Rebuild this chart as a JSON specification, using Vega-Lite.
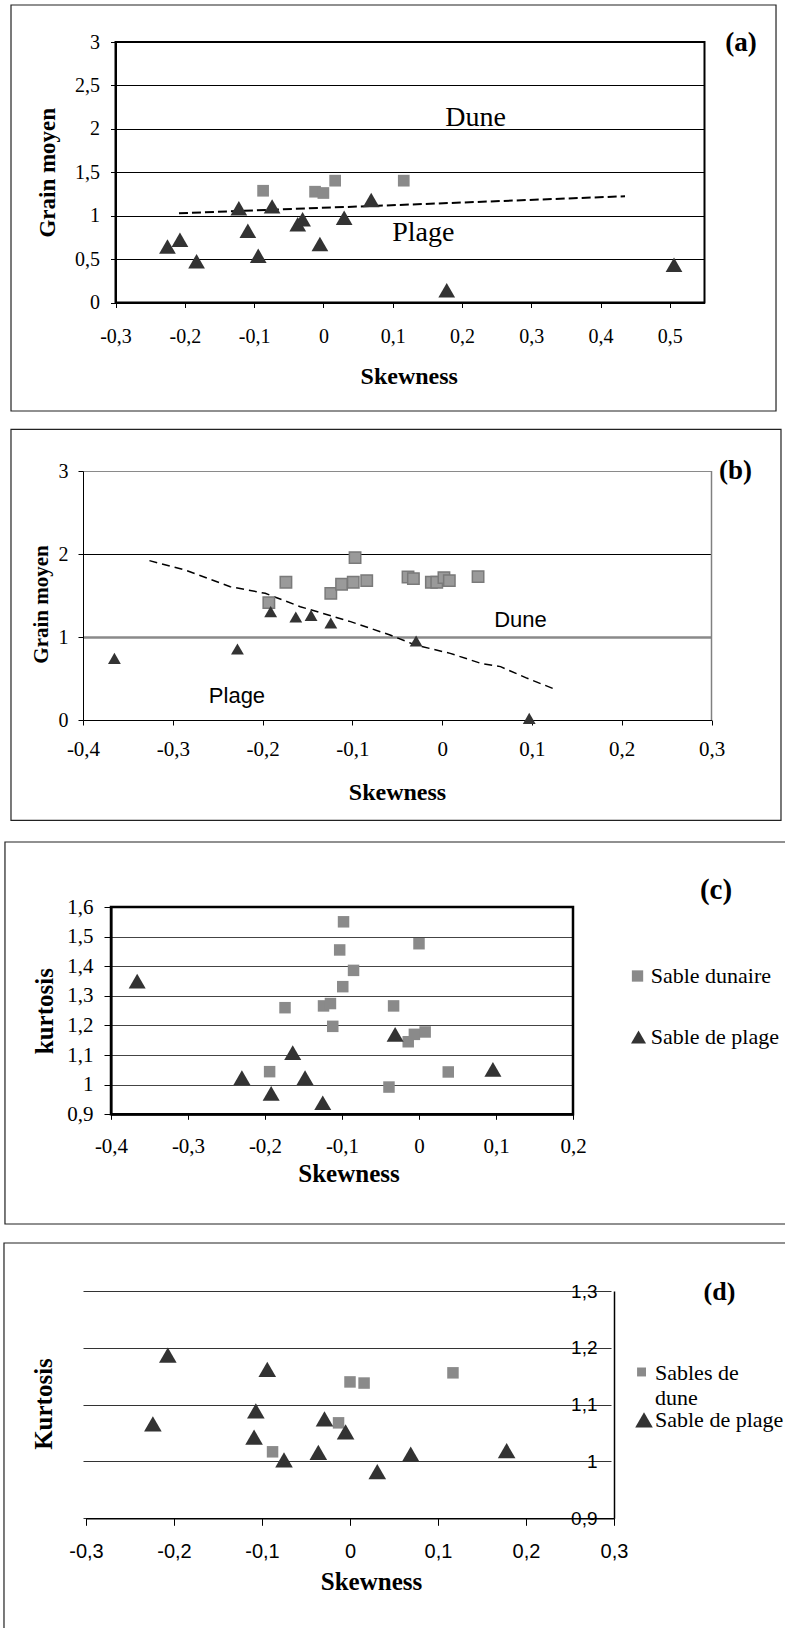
{
  "$schema": "https://vega.github.io/schema/vega-lite/v6.json",
  "background": "white",
  "padding": {"left": 3, "top": 4, "right": 5, "bottom": 5},
  "config": {
    "font": "Liberation Serif",
    "view": {"stroke": null},
    "axis": {"labelColor": "black", "titleColor": "black", "titleFontWeight": "bold", "labelFont": "Liberation Serif", "titleFont": "Liberation Serif", "labelFlush": false, "labelOverlap": false, "tickWidth": 1, "tickColor": "black", "domainColor": "black", "gridOpacity": 1, "tickCount": 40}
  },
  "datasets": {
    "a_dune": [{"skew": -0.087, "mean": 1.287}, {"skew": -0.012, "mean": 1.276}, {"skew": 0.0, "mean": 1.261}, {"skew": 0.017, "mean": 1.403}, {"skew": 0.116, "mean": 1.403}],
    "a_plage": [{"skew": -0.225, "mean": 0.645}, {"skew": -0.207, "mean": 0.722}, {"skew": -0.183, "mean": 0.475}, {"skew": -0.122, "mean": 1.085}, {"skew": -0.109, "mean": 0.825}, {"skew": -0.094, "mean": 0.537}, {"skew": -0.074, "mean": 1.107}, {"skew": -0.037, "mean": 0.9}, {"skew": -0.03, "mean": 0.96}, {"skew": -0.005, "mean": 0.674}, {"skew": 0.03, "mean": 0.975}, {"skew": 0.069, "mean": 1.18}, {"skew": 0.178, "mean": 0.142}, {"skew": 0.506, "mean": 0.434}],
    "a_trend": [{"skew": -0.2084, "mean": 1.027}, {"skew": 0.4353, "mean": 1.223}],
    "b_dune": [{"skew": -0.193, "mean": 1.414}, {"skew": -0.174, "mean": 1.659}, {"skew": -0.124, "mean": 1.526}, {"skew": -0.112, "mean": 1.635}, {"skew": -0.099, "mean": 1.659}, {"skew": -0.097, "mean": 1.956}, {"skew": -0.084, "mean": 1.679}, {"skew": -0.038, "mean": 1.723}, {"skew": -0.032, "mean": 1.703}, {"skew": -0.012, "mean": 1.659}, {"skew": -0.006, "mean": 1.659}, {"skew": 0.002, "mean": 1.715}, {"skew": 0.008, "mean": 1.679}, {"skew": 0.04, "mean": 1.727}],
    "b_plage": [{"skew": -0.365, "mean": 0.743}, {"skew": -0.228, "mean": 0.855}, {"skew": -0.191, "mean": 1.305}, {"skew": -0.163, "mean": 1.241}, {"skew": -0.146, "mean": 1.261}, {"skew": -0.124, "mean": 1.169}, {"skew": -0.029, "mean": 0.952}, {"skew": 0.097, "mean": 0.02}],
    "b_trend": [{"skew": -0.326, "mean": 1.92}, {"skew": -0.286, "mean": 1.807}, {"skew": -0.236, "mean": 1.606}, {"skew": -0.197, "mean": 1.526}, {"skew": -0.158, "mean": 1.365}, {"skew": -0.102, "mean": 1.185}, {"skew": -0.058, "mean": 1.024}, {"skew": -0.03, "mean": 0.904}, {"skew": 0.009, "mean": 0.803}, {"skew": 0.043, "mean": 0.683}, {"skew": 0.065, "mean": 0.643}, {"skew": 0.093, "mean": 0.51}, {"skew": 0.125, "mean": 0.373}],
    "c_dune": [{"skew": -0.194, "kurt": 1.044}, {"skew": -0.174, "kurt": 1.26}, {"skew": -0.124, "kurt": 1.266}, {"skew": -0.115, "kurt": 1.274}, {"skew": -0.112, "kurt": 1.197}, {"skew": -0.103, "kurt": 1.455}, {"skew": -0.099, "kurt": 1.331}, {"skew": -0.098, "kurt": 1.55}, {"skew": -0.085, "kurt": 1.386}, {"skew": -0.039, "kurt": 0.992}, {"skew": -0.033, "kurt": 1.266}, {"skew": -0.014, "kurt": 1.145}, {"skew": -0.006, "kurt": 1.17}, {"skew": 0.0, "kurt": 1.476}, {"skew": 0.008, "kurt": 1.178}, {"skew": 0.038, "kurt": 1.043}],
    "c_plage": [{"skew": -0.366, "kurt": 1.35}, {"skew": -0.23, "kurt": 1.024}, {"skew": -0.192, "kurt": 0.971}, {"skew": -0.164, "kurt": 1.108}, {"skew": -0.148, "kurt": 1.024}, {"skew": -0.125, "kurt": 0.939}, {"skew": -0.031, "kurt": 1.17}, {"skew": 0.096, "kurt": 1.052}],
    "d_dune": [{"skew": -0.088, "kurt": 1.017}, {"skew": -0.013, "kurt": 1.068}, {"skew": 0.0, "kurt": 1.14}, {"skew": 0.016, "kurt": 1.138}, {"skew": 0.117, "kurt": 1.156}],
    "d_plage": [{"skew": -0.224, "kurt": 1.066}, {"skew": -0.207, "kurt": 1.187}, {"skew": -0.109, "kurt": 1.043}, {"skew": -0.107, "kurt": 1.089}, {"skew": -0.094, "kurt": 1.162}, {"skew": -0.075, "kurt": 1.003}, {"skew": -0.036, "kurt": 1.016}, {"skew": -0.029, "kurt": 1.075}, {"skew": -0.005, "kurt": 1.052}, {"skew": 0.031, "kurt": 0.982}, {"skew": 0.069, "kurt": 1.013}, {"skew": 0.178, "kurt": 1.019}]
  },
  "spacing": 16,
  "resolve": {"scale": {"x": "independent", "y": "independent"}},
  "vconcat": [
    {
      "width": 621.5, "height": 260.5,
      "layer": [
        {"data": {"values": [{}]}, "mark": {"type": "rect", "fillOpacity": 0, "stroke": "#222", "strokeWidth": 1.2},
         "encoding": {"x": {"datum": -0.4508, "type": "quantitative", "scale": {"domain": [-0.3, 0.55], "range": [32.5, 621.5], "nice": false, "zero": false}}, "x2": {"datum": 0.6532},
                      "y": {"datum": 3.426, "type": "quantitative", "scale": {"domain": [0, 3], "nice": false, "zero": false}}, "y2": {"datum": -1.2496}}},
        {"data": {"values": [{}]}, "mark": {"type": "rect", "fillOpacity": 0, "stroke": "black", "strokeWidth": 2},
         "encoding": {"x": {"datum": -0.3, "type": "quantitative", "scale": {"domain": [-0.3, 0.55], "range": [32.5, 621.5], "nice": false, "zero": false}}, "x2": {"datum": 0.55},
                      "y": {"datum": 3, "type": "quantitative", "scale": {"domain": [0, 3], "nice": false, "zero": false}}, "y2": {"datum": 0}}},
        {"data": {"name": "a_trend"}, "mark": {"type": "line", "color": "black", "strokeDash": [9, 4], "strokeWidth": 2},
         "encoding": {"x": {"field": "skew", "type": "quantitative", "scale": {"domain": [-0.3, 0.55], "range": [32.5, 621.5], "nice": false, "zero": false}},
                      "y": {"field": "mean", "type": "quantitative", "scale": {"domain": [0, 3], "nice": false, "zero": false}}}},
        {"data": {"name": "a_dune"}, "mark": {"type": "point", "shape": "square", "filled": true, "color": "#8a8a8a", "size": 137, "opacity": 1},
         "encoding": {
           "x": {"field": "skew", "type": "quantitative", "scale": {"domain": [-0.3, 0.55], "range": [32.5, 621.5], "nice": false, "zero": false},
                 "axis": {"title": "Skewness", "values": [-0.3, -0.2, -0.1, 0, 0.1, 0.2, 0.3, 0.4, 0.5], "tickCount": 40, "labelExpr": "replace(replace(format(datum.value, '~g'), '.', ','), '\u2212', '-')", "grid": false, "domainWidth": 2, "tickSize": 5, "labelFontSize": 20, "labelPadding": 19, "titleFontSize": 24, "titlePadding": 18, "titleX": 325.75}},
           "y": {"field": "mean", "type": "quantitative", "scale": {"domain": [0, 3], "nice": false, "zero": false},
                 "axis": {"title": "Grain moyen", "offset": -32.5, "values": [0, 0.5, 1, 1.5, 2, 2.5, 3], "tickCount": 40, "labelExpr": "replace(replace(format(datum.value, '~g'), '.', ','), '\u2212', '-')", "grid": true, "gridColor": "black", "gridWidth": 1, "domainWidth": 2, "tickSize": 5, "labelFontSize": 20, "labelPadding": 11, "titleFontSize": 23, "titlePadding": 15}}}},
        {"data": {"name": "a_plage"}, "mark": {"type": "point", "shape": "triangle-up", "filled": true, "color": "#333333", "size": 280, "opacity": 1},
         "encoding": {"x": {"field": "skew", "type": "quantitative", "scale": {"domain": [-0.3, 0.55], "range": [32.5, 621.5], "nice": false, "zero": false}},
                      "y": {"field": "mean", "type": "quantitative", "scale": {"domain": [0, 3], "nice": false, "zero": false}}}},
        {"data": {"values": [{}]}, "mark": {"type": "text", "text": "Dune", "fontSize": 28, "align": "center", "baseline": "alphabetic", "color": "black"},
         "encoding": {"x": {"datum": 0.2196, "type": "quantitative", "scale": {"domain": [-0.3, 0.55], "range": [32.5, 621.5], "nice": false, "zero": false}},
                      "y": {"datum": 2.033, "type": "quantitative", "scale": {"domain": [0, 3], "nice": false, "zero": false}}}},
        {"data": {"values": [{}]}, "mark": {"type": "text", "text": "Plage", "fontSize": 28, "align": "center", "baseline": "alphabetic", "color": "black"},
         "encoding": {"x": {"datum": 0.1442, "type": "quantitative", "scale": {"domain": [-0.3, 0.55], "range": [32.5, 621.5], "nice": false, "zero": false}},
                      "y": {"datum": 0.712, "type": "quantitative", "scale": {"domain": [0, 3], "nice": false, "zero": false}}}},
        {"data": {"values": [{}]}, "mark": {"type": "text", "text": "(a)", "fontSize": 27, "fontWeight": "bold", "align": "center", "baseline": "middle", "color": "black"},
         "encoding": {"x": {"datum": 0.6027, "type": "quantitative", "scale": {"domain": [-0.3, 0.55], "range": [32.5, 621.5], "nice": false, "zero": false}},
                      "y": {"datum": 2.989, "type": "quantitative", "scale": {"domain": [0, 3], "nice": false, "zero": false}}}}
      ]
    },
    {
      "width": 628.5, "height": 249,
      "layer": [
        {"data": {"values": [{}]}, "mark": {"type": "rect", "fillOpacity": 0, "stroke": "#222", "strokeWidth": 1.2},
         "encoding": {"x": {"datum": -0.4802, "type": "quantitative", "scale": {"domain": [-0.4, 0.3], "range": [0, 628.5], "nice": false, "zero": false}}, "x2": {"datum": 0.3774},
                      "y": {"datum": 3.502, "type": "quantitative", "scale": {"domain": [0, 3], "nice": false, "zero": false}}, "y2": {"datum": -1.2084}}},
        {"data": {"values": [{}]}, "mark": {"type": "rule", "opacity": 0},
         "encoding": {"x": {"datum": 0, "type": "quantitative", "scale": {"domain": [-0.4, 0.3], "range": [0, 628.5], "nice": false, "zero": false}},
                      "y": {"datum": -1.2, "type": "quantitative", "scale": {"domain": [0, 3], "nice": false, "zero": false}}, "y2": {"datum": -1.265}}},
        {"data": {"values": [{}]}, "mark": {"type": "rule", "color": "#808080", "strokeWidth": 1.5},
         "encoding": {"x": {"datum": 0.3, "type": "quantitative", "scale": {"domain": [-0.4, 0.3], "range": [0, 628.5], "nice": false, "zero": false}},
                      "y": {"datum": 0, "type": "quantitative", "scale": {"domain": [0, 3], "nice": false, "zero": false}}, "y2": {"datum": 3}}},
        {"data": {"name": "b_trend"}, "mark": {"type": "line", "color": "black", "strokeDash": [8, 5], "strokeWidth": 1.5},
         "encoding": {"x": {"field": "skew", "type": "quantitative", "scale": {"domain": [-0.4, 0.3], "range": [0, 628.5], "nice": false, "zero": false}},
                      "y": {"field": "mean", "type": "quantitative", "scale": {"domain": [0, 3], "nice": false, "zero": false}}}},
        {"data": {"name": "b_dune"}, "mark": {"type": "point", "shape": "square", "filled": true, "fill": "#9a9a9a", "stroke": "#7a7a7a", "strokeWidth": 1.5, "size": 130, "opacity": 1},
         "encoding": {
           "x": {"field": "skew", "type": "quantitative", "scale": {"domain": [-0.4, 0.3], "range": [0, 628.5], "nice": false, "zero": false},
                 "axis": {"title": "Skewness", "values": [-0.4, -0.3, -0.2, -0.1, 0, 0.1, 0.2, 0.3], "tickCount": 40, "labelExpr": "replace(replace(format(datum.value, '~g'), '.', ','), '\u2212', '-')", "grid": false, "domainWidth": 1, "tickSize": 5, "labelFontSize": 21, "labelPadding": 13, "titleFontSize": 24, "titlePadding": 21, "titleX": 314}},
           "y": {"field": "mean", "type": "quantitative", "scale": {"domain": [0, 3], "nice": false, "zero": false},
                 "axis": {"title": "Grain moyen", "values": [0, 1, 2, 3], "tickCount": 40, "labelExpr": "replace(replace(format(datum.value, '~g'), '.', ','), '\u2212', '-')", "grid": true,
                          "gridColor": {"condition": {"test": "datum.value === 2", "value": "black"}, "value": "#8a8a8a"},
                          "gridWidth": {"condition": {"test": "datum.value === 1", "value": 2.5}, "value": 1.2},
                          "domainWidth": 1, "tickSize": 5, "labelFontSize": 20, "labelPadding": 10, "titleFontSize": 21, "titlePadding": 7, "titleY": 133}}}},
        {"data": {"name": "b_plage"}, "mark": {"type": "point", "shape": "triangle-up", "filled": true, "color": "#333333", "size": 165, "opacity": 1},
         "encoding": {"x": {"field": "skew", "type": "quantitative", "scale": {"domain": [-0.4, 0.3], "range": [0, 628.5], "nice": false, "zero": false}},
                      "y": {"field": "mean", "type": "quantitative", "scale": {"domain": [0, 3], "nice": false, "zero": false}}}},
        {"data": {"values": [{}]}, "mark": {"type": "text", "text": "Dune", "font": "Liberation Sans", "fontSize": 22, "align": "center", "baseline": "alphabetic", "color": "black"},
         "encoding": {"x": {"datum": 0.0872, "type": "quantitative", "scale": {"domain": [-0.4, 0.3], "range": [0, 628.5], "nice": false, "zero": false}},
                      "y": {"datum": 1.117, "type": "quantitative", "scale": {"domain": [0, 3], "nice": false, "zero": false}}}},
        {"data": {"values": [{}]}, "mark": {"type": "text", "text": "Plage", "font": "Liberation Sans", "fontSize": 22, "align": "center", "baseline": "alphabetic", "color": "black"},
         "encoding": {"x": {"datum": -0.2285, "type": "quantitative", "scale": {"domain": [-0.4, 0.3], "range": [0, 628.5], "nice": false, "zero": false}},
                      "y": {"datum": 0.201, "type": "quantitative", "scale": {"domain": [0, 3], "nice": false, "zero": false}}}},
        {"data": {"values": [{}]}, "mark": {"type": "text", "text": "(b)", "fontSize": 27, "fontWeight": "bold", "align": "center", "baseline": "middle", "color": "black"},
         "encoding": {"x": {"datum": 0.3267, "type": "quantitative", "scale": {"domain": [-0.4, 0.3], "range": [0, 628.5], "nice": false, "zero": false}},
                      "y": {"datum": 3.002, "type": "quantitative", "scale": {"domain": [0, 3], "nice": false, "zero": false}}}}
      ]
    },
    {
      "width": 490, "height": 207.3,
      "layer": [
        {"data": {"values": [{}]}, "mark": {"type": "rect", "fillOpacity": 0, "stroke": "#222", "strokeWidth": 1.2},
         "encoding": {"x": {"datum": -0.5377, "type": "quantitative", "scale": {"domain": [-0.4, 0.2], "range": [28, 490], "nice": false, "zero": false}}, "x2": {"datum": 0.4948},
                      "y": {"datum": 1.8195, "type": "quantitative", "scale": {"domain": [0.9, 1.6], "nice": false, "zero": false}}, "y2": {"datum": 0.5296}}},
        {"data": {"values": [{}]}, "mark": {"type": "rule", "opacity": 0},
         "encoding": {"x": {"datum": 0, "type": "quantitative", "scale": {"domain": [-0.4, 0.2], "range": [28, 490], "nice": false, "zero": false}},
                      "y": {"datum": 0.54, "type": "quantitative", "scale": {"domain": [0.9, 1.6], "nice": false, "zero": false}}, "y2": {"datum": 0.525}}},
        {"data": {"values": [{}]}, "mark": {"type": "rect", "fillOpacity": 0, "stroke": "black", "strokeWidth": 2.5},
         "encoding": {"x": {"datum": -0.4, "type": "quantitative", "scale": {"domain": [-0.4, 0.2], "range": [28, 490], "nice": false, "zero": false}}, "x2": {"datum": 0.2},
                      "y": {"datum": 1.6, "type": "quantitative", "scale": {"domain": [0.9, 1.6], "nice": false, "zero": false}}, "y2": {"datum": 0.9}}},
        {"data": {"name": "c_dune"}, "mark": {"type": "point", "shape": "square", "filled": true, "color": "#8a8a8a", "size": 132, "opacity": 1},
         "encoding": {
           "x": {"field": "skew", "type": "quantitative", "scale": {"domain": [-0.4, 0.2], "range": [28, 490], "nice": false, "zero": false},
                 "axis": {"title": "Skewness", "values": [-0.4, -0.3, -0.2, -0.1, 0, 0.1, 0.2], "tickCount": 40, "labelExpr": "replace(replace(format(datum.value, '~g'), '.', ','), '\u2212', '-')", "grid": false, "domainWidth": 2, "tickSize": 5, "labelFontSize": 21, "labelPadding": 16, "titleFontSize": 25, "titlePadding": 5, "titleX": 265.5}},
           "y": {"field": "kurt", "type": "quantitative", "scale": {"domain": [0.9, 1.6], "nice": false, "zero": false},
                 "axis": {"title": "kurtosis", "offset": -28, "values": [0.9, 1.0, 1.1, 1.2, 1.3, 1.4, 1.5, 1.6], "tickCount": 40, "labelExpr": "replace(replace(format(datum.value, '~g'), '.', ','), '\u2212', '-')", "grid": true, "gridColor": "#444444", "gridWidth": 1.2, "domainWidth": 2, "tickSize": 7, "labelFontSize": 21, "labelPadding": 11, "titleFontSize": 25, "titlePadding": 9}}}},
        {"data": {"name": "c_plage"}, "mark": {"type": "point", "shape": "triangle-up", "filled": true, "color": "#333333", "size": 290, "opacity": 1},
         "encoding": {"x": {"field": "skew", "type": "quantitative", "scale": {"domain": [-0.4, 0.2], "range": [28, 490], "nice": false, "zero": false}},
                      "y": {"field": "kurt", "type": "quantitative", "scale": {"domain": [0.9, 1.6], "nice": false, "zero": false}}}},
        {"data": {"values": [{}]}, "mark": {"type": "point", "shape": "square", "filled": true, "color": "#8a8a8a", "size": 128, "opacity": 1},
         "encoding": {"x": {"datum": 0.2838, "type": "quantitative", "scale": {"domain": [-0.4, 0.2], "range": [28, 490], "nice": false, "zero": false}},
                      "y": {"datum": 1.367, "type": "quantitative", "scale": {"domain": [0.9, 1.6], "nice": false, "zero": false}}}},
        {"data": {"values": [{}]}, "mark": {"type": "point", "shape": "triangle-up", "filled": true, "color": "#333333", "size": 225, "opacity": 1},
         "encoding": {"x": {"datum": 0.2851, "type": "quantitative", "scale": {"domain": [-0.4, 0.2], "range": [28, 490], "nice": false, "zero": false}},
                      "y": {"datum": 1.161, "type": "quantitative", "scale": {"domain": [0.9, 1.6], "nice": false, "zero": false}}}},
        {"data": {"values": [{}]}, "mark": {"type": "text", "text": "Sable dunaire", "fontSize": 22, "align": "left", "baseline": "alphabetic", "color": "black"},
         "encoding": {"x": {"datum": 0.3009, "type": "quantitative", "scale": {"domain": [-0.4, 0.2], "range": [28, 490], "nice": false, "zero": false}},
                      "y": {"datum": 1.3434, "type": "quantitative", "scale": {"domain": [0.9, 1.6], "nice": false, "zero": false}}}},
        {"data": {"values": [{}]}, "mark": {"type": "text", "text": "Sable de plage", "fontSize": 22, "align": "left", "baseline": "alphabetic", "color": "black"},
         "encoding": {"x": {"datum": 0.3009, "type": "quantitative", "scale": {"domain": [-0.4, 0.2], "range": [28, 490], "nice": false, "zero": false}},
                      "y": {"datum": 1.1374, "type": "quantitative", "scale": {"domain": [0.9, 1.6], "nice": false, "zero": false}}}},
        {"data": {"values": [{}]}, "mark": {"type": "text", "text": "(c)", "fontSize": 29, "fontWeight": "bold", "align": "center", "baseline": "middle", "color": "black"},
         "encoding": {"x": {"datum": 0.3857, "type": "quantitative", "scale": {"domain": [-0.4, 0.2], "range": [28, 490], "nice": false, "zero": false}},
                      "y": {"datum": 1.659, "type": "quantitative", "scale": {"domain": [0.9, 1.6], "nice": false, "zero": false}}}}
      ]
    },
    {
      "width": 531, "height": 227.3,
      "layer": [
        {"data": {"values": [{}]}, "mark": {"type": "rect", "fillOpacity": 0, "stroke": "#222", "strokeWidth": 1.2},
         "encoding": {"x": {"datum": -0.3932, "type": "quantitative", "scale": {"domain": [-0.3, 0.3], "range": [3, 531], "nice": false, "zero": false}}, "x2": {"datum": 0.5114},
                      "y": {"datum": 1.3845, "type": "quantitative", "scale": {"domain": [0.9, 1.3], "nice": false, "zero": false}}, "y2": {"datum": 0.6858}}},
        {"data": {"name": "d_dune"}, "mark": {"type": "point", "shape": "square", "filled": true, "color": "#8a8a8a", "size": 132, "opacity": 1},
         "encoding": {
           "x": {"field": "skew", "type": "quantitative", "scale": {"domain": [-0.3, 0.3], "range": [3, 531], "nice": false, "zero": false},
                 "axis": {"title": "Skewness", "values": [-0.3, -0.2, -0.1, 0, 0.1, 0.2, 0.3], "tickCount": 40, "labelExpr": "replace(replace(format(datum.value, '~g'), '.', ','), '\u2212', '-')", "grid": false, "domainWidth": 1.5, "tickSize": 7, "labelFont": "Liberation Sans", "labelFontSize": 20, "labelPadding": 16, "titleFontSize": 25, "titlePadding": 8, "titleX": 288}},
           "y": {"field": "kurt", "type": "quantitative", "scale": {"domain": [0.9, 1.3], "nice": false, "zero": false},
                 "axis": {"orient": "right", "title": null, "values": [0.9, 1.0, 1.1, 1.2, 1.3], "tickCount": 40, "labelExpr": "replace(replace(format(datum.value, '~g'), '.', ','), '\u2212', '-')", "grid": true, "gridColor": "#333333", "gridWidth": 1.2, "domainWidth": 1.5, "ticks": false, "tickSize": 0, "labelFont": "Liberation Sans", "labelFontSize": 19, "labelAlign": "right", "labelBaseline": "middle", "labelPadding": -17}}}},
        {"data": {"name": "d_plage"}, "mark": {"type": "point", "shape": "triangle-up", "filled": true, "color": "#333333", "size": 310, "opacity": 1},
         "encoding": {"x": {"field": "skew", "type": "quantitative", "scale": {"domain": [-0.3, 0.3], "range": [3, 531], "nice": false, "zero": false}},
                      "y": {"field": "kurt", "type": "quantitative", "scale": {"domain": [0.9, 1.3], "nice": false, "zero": false}}}},
        {"data": {"values": [{}]}, "mark": {"type": "point", "shape": "square", "filled": true, "color": "#8a8a8a", "size": 80, "opacity": 1},
         "encoding": {"x": {"datum": 0.3313, "type": "quantitative", "scale": {"domain": [-0.3, 0.3], "range": [3, 531], "nice": false, "zero": false}},
                      "y": {"datum": 1.1575, "type": "quantitative", "scale": {"domain": [0.9, 1.3], "nice": false, "zero": false}}}},
        {"data": {"values": [{}]}, "mark": {"type": "point", "shape": "triangle-up", "filled": true, "color": "#333333", "size": 310, "opacity": 1},
         "encoding": {"x": {"datum": 0.3341, "type": "quantitative", "scale": {"domain": [-0.3, 0.3], "range": [3, 531], "nice": false, "zero": false}},
                      "y": {"datum": 1.073, "type": "quantitative", "scale": {"domain": [0.9, 1.3], "nice": false, "zero": false}}}},
        {"data": {"values": [{}]}, "mark": {"type": "text", "text": ["Sables de", "dune"], "lineHeight": 25, "fontSize": 22, "align": "left", "baseline": "alphabetic", "color": "black"},
         "encoding": {"x": {"datum": 0.3466, "type": "quantitative", "scale": {"domain": [-0.3, 0.3], "range": [3, 531], "nice": false, "zero": false}},
                      "y": {"datum": 1.1434, "type": "quantitative", "scale": {"domain": [0.9, 1.3], "nice": false, "zero": false}}}},
        {"data": {"values": [{}]}, "mark": {"type": "text", "text": "Sable de plage", "fontSize": 22, "align": "left", "baseline": "alphabetic", "color": "black"},
         "encoding": {"x": {"datum": 0.3466, "type": "quantitative", "scale": {"domain": [-0.3, 0.3], "range": [3, 531], "nice": false, "zero": false}},
                      "y": {"datum": 1.0607, "type": "quantitative", "scale": {"domain": [0.9, 1.3], "nice": false, "zero": false}}}},
        {"data": {"values": [{}]}, "mark": {"type": "text", "text": "Kurtosis", "fontSize": 25, "fontWeight": "bold", "angle": 270, "align": "center", "baseline": "middle", "color": "black"},
         "encoding": {"x": {"datum": -0.3477, "type": "quantitative", "scale": {"domain": [-0.3, 0.3], "range": [3, 531], "nice": false, "zero": false}},
                      "y": {"datum": 1.1011, "type": "quantitative", "scale": {"domain": [0.9, 1.3], "nice": false, "zero": false}}}},
        {"data": {"values": [{}]}, "mark": {"type": "text", "text": "(d)", "fontSize": 26, "fontWeight": "bold", "align": "center", "baseline": "middle", "color": "black"},
         "encoding": {"x": {"datum": 0.4199, "type": "quantitative", "scale": {"domain": [-0.3, 0.3], "range": [3, 531], "nice": false, "zero": false}},
                      "y": {"datum": 1.299, "type": "quantitative", "scale": {"domain": [0.9, 1.3], "nice": false, "zero": false}}}}
      ]
    }
  ]
}
